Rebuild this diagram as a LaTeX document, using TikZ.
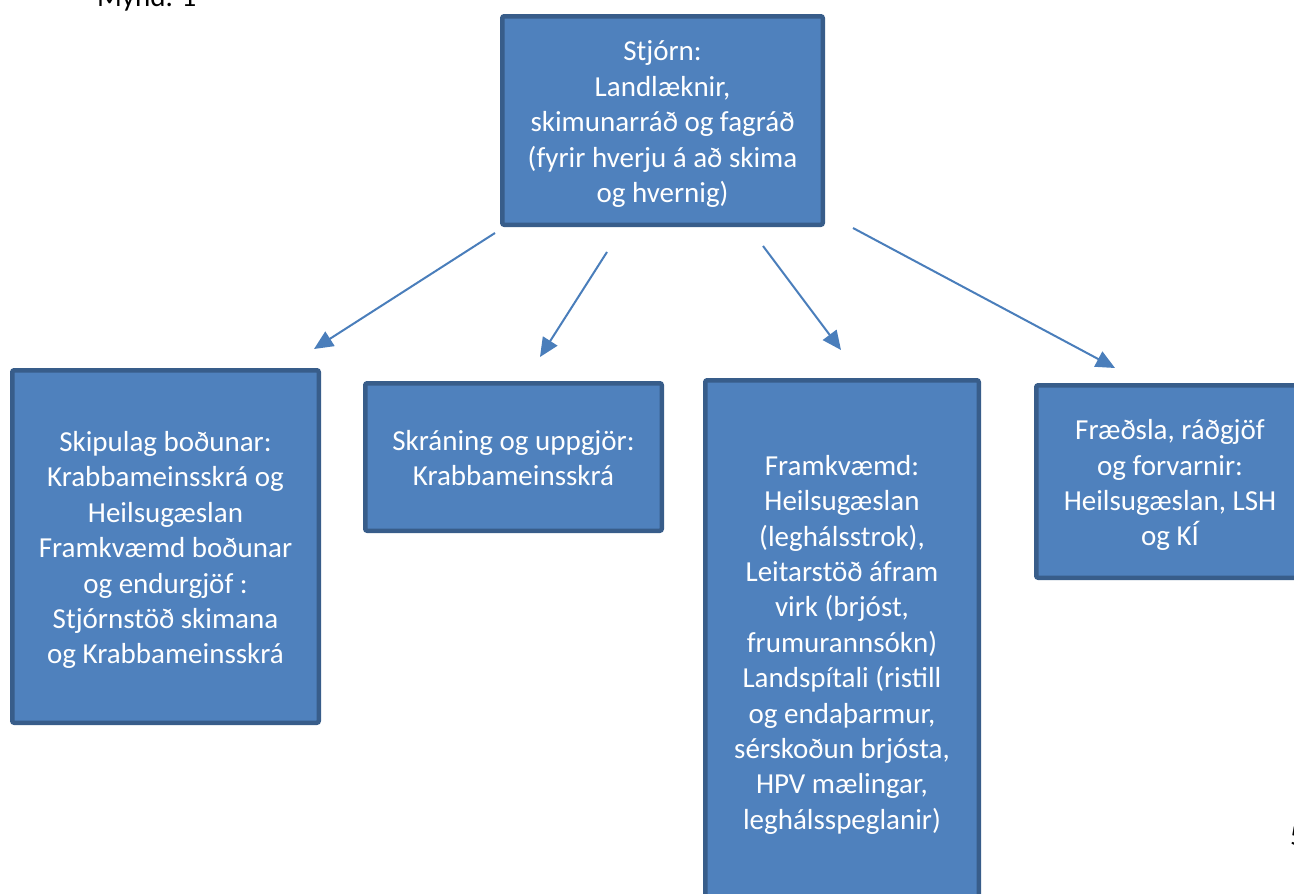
\documentclass[tikz,border=0pt]{standalone}
\usepackage{fontspec}
\setmainfont{Carlito}
\usetikzlibrary{arrows.meta}
\definecolor{boxfill}{HTML}{4F81BD}
\definecolor{boxline}{HTML}{385D8A}
\definecolor{arrowcol}{HTML}{4A7EBB}
\newcommand\topstrut{\rule{0pt}{29pt}}
\newcommand\botstrut{\rule[-6.5pt]{0pt}{6.5pt}}
\tikzset{
  orgbox/.style={draw=boxline, fill=boxfill, line width=4.5pt, rounded corners=2pt,
    rectangle, inner sep=0pt, align=center, text=white,
    font=\fontsize{29}{35.4}\selectfont},
  link/.style={draw=arrowcol, line width=2pt, -{Triangle[length=19pt,width=17pt]}},
  plain/.style={inner sep=0pt, font=\fontsize{29}{35.4}\selectfont, text=black}
}
\begin{document}
\begin{tikzpicture}[x=1pt,y=-1pt]
\useasboundingbox (0,0) rectangle (1294,894);
\node[plain, anchor=base west] (cap) at (97,6) {Mynd. 1};
\node[plain, anchor=base west] (pg) at (1290,845) {5};

\node[orgbox, minimum width=320.5pt, minimum height=208.5pt] (top) at (662.5,120.5)
  {\topstrut Stjórn:\\Landlæknir,\\skimunarráð og fagráð\\(fyrir hverju á að skima\\og hvernig)\botstrut};
\node[orgbox, minimum width=306.5pt, minimum height=352.5pt] (b1) at (165.5,546.5)
  {\topstrut Skipulag boðunar:\\Krabbameinsskrá og\\Heilsugæslan\\Framkvæmd boðunar\\og endurgjöf :\\Stjórnstöð skimana\\og Krabbameinsskrá\botstrut};
\node[orgbox, minimum width=296.5pt, minimum height=147.5pt] (b2) at (513.5,457)
  {\topstrut Skráning og uppgjör:\\Krabbameinsskrá\botstrut};
\node[orgbox, minimum width=273.5pt, minimum height=521.5pt] (b3) at (842,641)
  {\topstrut Framkvæmd:\\Heilsugæslan\\(leghálsstrok),\\Leitarstöð áfram\\virk (brjóst,\\frumurannsókn)\\Landspítali (ristill\\og endaþarmur,\\sérskoðun brjósta,\\HPV mælingar,\\leghálsspeglanir)\botstrut};
\node[orgbox, minimum width=267.5pt, minimum height=192.5pt] (b4) at (1170,481.5)
  {\topstrut Fræðsla, ráðgjöf\\og forvarnir:\\Heilsugæslan, LSH\\og KÍ\botstrut};

\coordinate (s1) at (495,233);  \coordinate (e1) at (314,349);
\coordinate (s2) at (607,252);  \coordinate (e2) at (540,357);
\coordinate (s3) at (763,246);  \coordinate (e3) at (841,350);
\coordinate (s4) at (853,228);  \coordinate (e4) at (1115,368);
\draw[link] (s1) -- (e1);
\draw[link] (s2) -- (e2);
\draw[link] (s3) -- (e3);
\draw[link] (s4) -- (e4);
\end{tikzpicture}
\end{document}
